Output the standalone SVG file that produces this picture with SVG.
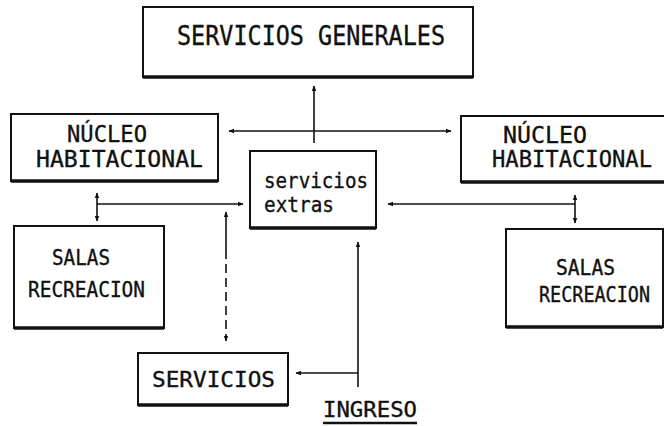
<svg xmlns="http://www.w3.org/2000/svg" width="664" height="426" viewBox="0 0 664 426">
<style>
.box{fill:#fff;stroke:#111;stroke-width:2}
.bot{stroke:#111;stroke-width:3.5;fill:none}
.t{font-family:"DejaVu Sans Mono","Liberation Mono",monospace;fill:#111;stroke:#111;stroke-width:0.35}
.c{stroke:#111;stroke-width:1.6;fill:none}
</style>
<defs>
<marker id="ah" viewBox="0 0 10 10" refX="9" refY="5" markerWidth="6" markerHeight="6" orient="auto-start-reverse" markerUnits="userSpaceOnUse">
<path d="M0,1 L10,5 L0,9 Z" fill="#111"/>
</marker>
</defs>
<rect width="664" height="426" fill="#fff"/>

<g id="servicios-generales">
<rect class="box" x="143" y="7" width="330" height="70"/>
<line class="bot" x1="143" y1="77" x2="473" y2="77"/>
<text class="t" x="177" y="45" font-size="26" textLength="268" lengthAdjust="spacingAndGlyphs">SERVICIOS GENERALES</text>
</g>

<g id="nucleo-izq">
<rect class="box" x="11" y="114" width="207" height="67"/>
<line class="bot" x1="11" y1="181" x2="218" y2="181"/>
<text class="t" x="67" y="142" font-size="23" textLength="80" lengthAdjust="spacingAndGlyphs">NÚCLEO</text>
<text class="t" x="36" y="167" font-size="23" textLength="167" lengthAdjust="spacingAndGlyphs">HABITACIONAL</text>
</g>

<g id="nucleo-der">
<path class="box" d="M664,116 H461 V182 H664"/>
<line class="bot" x1="461" y1="182" x2="664" y2="182"/>
<text class="t" x="503" y="143" font-size="23" textLength="84" lengthAdjust="spacingAndGlyphs">NÚCLEO</text>
<text class="t" x="492" y="167" font-size="23" textLength="160" lengthAdjust="spacingAndGlyphs">HABITACIONAL</text>
</g>

<g id="servicios-extras">
<rect class="box" x="250" y="151" width="126" height="77"/>
<line class="bot" x1="250" y1="228" x2="376" y2="228"/>
<text class="t" x="264" y="188" font-size="22" textLength="104" lengthAdjust="spacingAndGlyphs">servicios</text>
<text class="t" x="264" y="212" font-size="22" textLength="70" lengthAdjust="spacingAndGlyphs">extras</text>
</g>

<g id="salas-izq">
<rect class="box" x="14" y="226" width="150" height="102"/>
<line class="bot" x1="14" y1="328" x2="164" y2="328"/>
<text class="t" x="52" y="265" font-size="21" textLength="58" lengthAdjust="spacingAndGlyphs">SALAS</text>
<text class="t" x="28" y="297" font-size="21" textLength="117" lengthAdjust="spacingAndGlyphs">RECREACION</text>
</g>

<g id="salas-der">
<rect class="box" x="506" y="229" width="157" height="98"/>
<line class="bot" x1="506" y1="327" x2="663" y2="327"/>
<text class="t" x="556" y="275" font-size="21" textLength="59" lengthAdjust="spacingAndGlyphs">SALAS</text>
<text class="t" x="539" y="302" font-size="21" textLength="111" lengthAdjust="spacingAndGlyphs">RECREACION</text>
</g>

<g id="servicios">
<rect class="box" x="138" y="353" width="150" height="52"/>
<line class="bot" x1="138" y1="405" x2="288" y2="405"/>
<text class="t" x="152" y="387" font-size="22" textLength="123" lengthAdjust="spacingAndGlyphs">SERVICIOS</text>
</g>

<g id="ingreso">
<text class="t" x="323" y="417" font-size="21" textLength="94" lengthAdjust="spacingAndGlyphs">INGRESO</text>
<line x1="323" y1="423" x2="417" y2="423" stroke="#111" stroke-width="2.5"/>
</g>

<g id="connectors">
<line class="c" x1="314" y1="143" x2="314" y2="86" marker-end="url(#ah)"/>
<line class="c" x1="229" y1="131" x2="451" y2="131" marker-start="url(#ah)" marker-end="url(#ah)"/>
<line class="c" x1="97" y1="193" x2="97" y2="221" marker-start="url(#ah)" marker-end="url(#ah)"/>
<line class="c" x1="97" y1="204" x2="243" y2="204" marker-end="url(#ah)"/>
<line class="c" x1="226" y1="212" x2="226" y2="250" marker-start="url(#ah)"/>
<line class="c" x1="226" y1="250" x2="226" y2="341" stroke-dasharray="9,5" marker-end="url(#ah)"/>
<line class="c" x1="575" y1="195" x2="575" y2="223" marker-start="url(#ah)" marker-end="url(#ah)"/>
<line class="c" x1="575" y1="204" x2="388" y2="204" marker-end="url(#ah)"/>
<line class="c" x1="358" y1="387" x2="358" y2="242" marker-end="url(#ah)"/>
<line class="c" x1="358" y1="373" x2="296" y2="373" marker-end="url(#ah)"/>
</g>
</svg>
